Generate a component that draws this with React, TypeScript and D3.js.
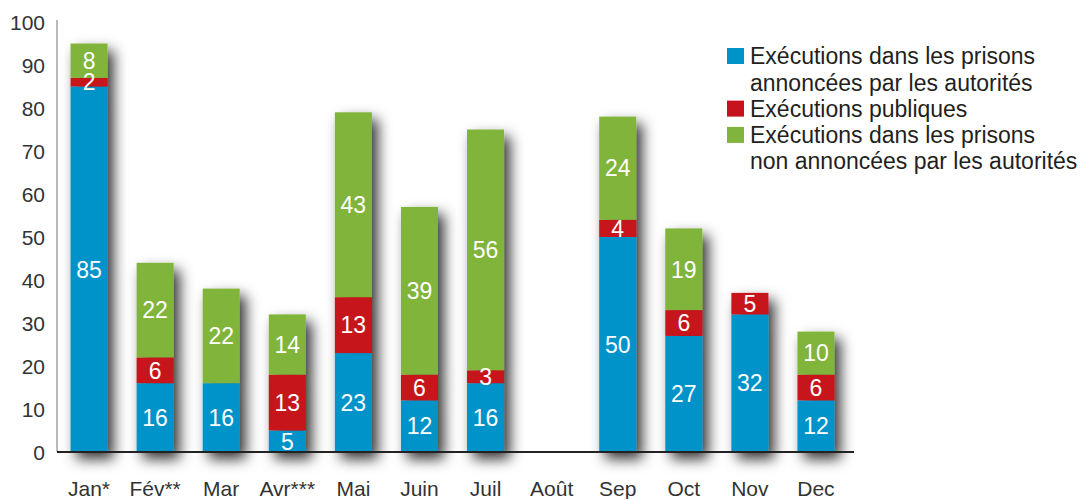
import React from "react";
import * as d3 from "d3";

const months = ["Jan*", "Fév**", "Mar", "Avr***", "Mai", "Juin", "Juil", "Août", "Sep", "Oct", "Nov", "Dec"];
const announced = [85, 16, 16, 5, 23, 12, 16, 0, 50, 27, 32, 12];
const publicExec = [2, 6, 0, 13, 13, 6, 3, 0, 4, 6, 5, 6];
const unannounced = [8, 22, 22, 14, 43, 39, 56, 0, 24, 19, 0, 10];
const yTicks = [0, 10, 20, 30, 40, 50, 60, 70, 80, 90, 100];
const seriesNames = [
  ["Exécutions dans les prisons", "annoncées par les autorités"],
  ["Exécutions publiques"],
  ["Exécutions dans les prisons", "non annoncées par les autorités"],
];
const colors = ["#0093c9", "#c6121c", "#80b43a"];

const W = 1083;
const H = 499;
const FONT = "'Liberation Sans', Arial, Helvetica, sans-serif";

export default function App() {
  const x = d3.scaleBand<string>().domain(months).range([56, 849]).paddingInner(0.44).paddingOuter(0.22);
  const y = d3.scaleLinear().domain([0, 100]).range([452, 22]);

  const rows = months.map((m, i) => ({ m, a: announced[i], p: publicExec[i], u: unannounced[i] }));
  const stack = d3.stack<any>().keys(["a", "p", "u"])(rows);

  let legendY = 56;
  const legendItems: React.ReactNode[] = [];
  seriesNames.forEach((lines, si) => {
    legendItems.push(
      <rect key={"lr" + si} x={727} y={legendY - 8} width={17} height={16} fill={colors[si]} />
    );
    lines.forEach((ln, li) => {
      legendItems.push(
        <text key={"lt" + si + li} x={750} y={legendY} dy="0.36em" fontSize={23} fill="#231f20" fontFamily={FONT}>
          {ln}
        </text>
      );
      legendY += 26.3;
    });
  });

  return (
    <svg width={W} height={H} style={{ position: "absolute", left: 0, top: 0, background: "#fff" }}>
      <defs>
        <filter id="sh" x="-60%" y="-20%" width="220%" height="150%">
          <feDropShadow dx={6} dy={7} stdDeviation={7} floodColor="#000" floodOpacity={0.8} />
        </filter>
      </defs>
      {/* y axis */}
      <line x1={57} x2={57} y1={20} y2={452} stroke="#777" strokeWidth={1} />
      {yTicks.map((t) => (
        <text key={t} x={45} y={y(t)} dy="0.36em" textAnchor="end" fontSize={21} fill="#333" fontFamily={FONT}>
          {t}
        </text>
      ))}
      {/* bars with shadow */}
      {rows.map((r, i) => {
        const total = r.a + r.p + r.u;
        if (total === 0) return null;
        return (
          <g key={"b" + i} filter="url(#sh)">
            {stack.map((s, si) => {
              const d = s[i];
              if (d[1] - d[0] <= 0) return null;
              return (
                <rect
                  key={si}
                  x={x(r.m)!}
                  y={y(d[1])}
                  width={x.bandwidth()}
                  height={y(d[0]) - y(d[1])}
                  fill={colors[si]}
                />
              );
            })}
          </g>
        );
      })}
      {/* labels */}
      {rows.map((r, i) =>
        stack.map((s, si) => {
          const d = s[i];
          const v = d[1] - d[0];
          if (v <= 0) return null;
          return (
            <text
              key={"l" + i + "-" + si}
              x={x(r.m)! + x.bandwidth() / 2}
              y={y((d[0] + d[1]) / 2)}
              dy="0.36em"
              textAnchor="middle"
              fontSize={23}
              fill="#fff"
              fontFamily={FONT}
            >
              {v}
            </text>
          );
        })
      )}
      {/* x axis */}
      <line x1={57} x2={854} y1={452} y2={452} stroke="#222" strokeWidth={2} />
      {months.map((m) => (
        <text key={m} x={x(m)! + x.bandwidth() / 2} y={496} textAnchor="middle" fontSize={21} fill="#333" fontFamily={FONT}>
          {m}
        </text>
      ))}
      {legendItems}
    </svg>
  );
}
